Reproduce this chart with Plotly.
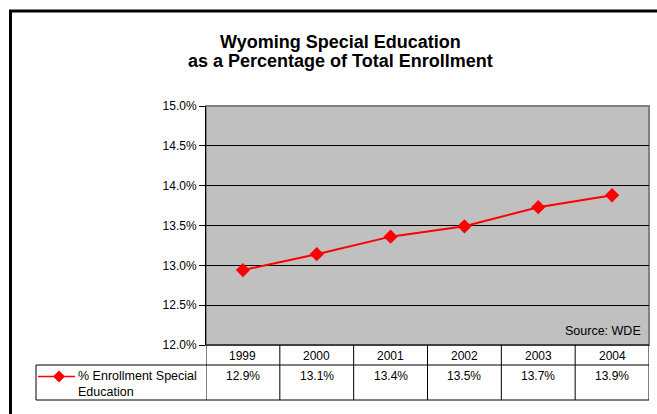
import plotly.graph_objects as go

# Data
years = ["1999", "2000", "2001", "2002", "2003", "2004"]
pct_special_ed = [12.94, 13.14, 13.36, 13.49, 13.73, 13.88]
series_name = "% Enrollment Special<br>Education"
title_lines = ["Wyoming Special Education", "as a Percentage of Total Enrollment"]
source_text = "Source: WDE"
y_ticks = [12.0, 12.5, 13.0, 13.5, 14.0, 14.5, 15.0]

W, H = 657, 414
L, R, T, B = 206, 8, 106, 69
PW = W - L - R
PH = H - T - B

FONT = "Liberation Sans, Arial, sans-serif"
RED = "#FF0000"


def px(x):
    """pixel x -> paper x"""
    return (x - L) / PW


def py(y):
    """pixel y -> paper y"""
    return (H - B - y) / PH


xs = list(range(len(years)))

fig = go.Figure()
fig.add_trace(go.Scatter(
    x=xs, y=pct_special_ed, mode="lines+markers",
    line=dict(color=RED, width=2),
    marker=dict(symbol="diamond", size=11, color=RED),
    showlegend=False, hoverinfo="skip",
))

shapes = []
annotations = []

# outer chart border (right/bottom fall outside the page)
shapes.append(dict(type="rect", xref="paper", yref="paper",
                   x0=px(10.5), x1=px(W + 40), y0=py(11), y1=py(H + 40),
                   line=dict(color="black", width=3)))

# plot area frame: gray top/right, black left axis
shapes.append(dict(type="rect", xref="paper", yref="paper",
                   x0=0, x1=1, y0=0, y1=1, line=dict(color="#808080", width=2),
                   layer="below"))

# data table lines
row_top, row_mid, row_bot = 345, 365, 400
legend_left = 36
shapes.append(dict(type="line", xref="paper", yref="paper",
                   x0=0, x1=1, y0=py(row_top), y1=py(row_top),
                   line=dict(color="black", width=1)))
for yy in (row_mid, row_bot):
    shapes.append(dict(type="line", xref="paper", yref="paper",
                       x0=px(legend_left), x1=1, y0=py(yy), y1=py(yy),
                       line=dict(color="black", width=1)))
shapes.append(dict(type="line", xref="paper", yref="paper",
                   x0=px(legend_left), x1=px(legend_left),
                   y0=py(row_mid), y1=py(row_bot),
                   line=dict(color="black", width=1)))
for i in range(len(years) + 1):
    shapes.append(dict(type="line", xref="x", yref="paper",
                       x0=i - 0.5, x1=i - 0.5, y0=py(row_top), y1=py(row_bot),
                       line=dict(color="black", width=1)))

# table text: years and values
for i, (yr, v) in enumerate(zip(years, pct_special_ed)):
    annotations.append(dict(x=i, y=py(355.5), xref="x", yref="paper",
                            text=yr, showarrow=False, yanchor="middle",
                            font=dict(family=FONT, size=12, color="black")))
    annotations.append(dict(x=i, y=py(375.5), xref="x", yref="paper",
                            text=f"{v:.1f}%", showarrow=False, yanchor="middle",
                            font=dict(family=FONT, size=12, color="black")))

# legend key in the table's first cell
key_y = 376.5
shapes.append(dict(type="line", xref="paper", yref="paper",
                   x0=px(38), x1=px(75), y0=py(key_y), y1=py(key_y),
                   line=dict(color=RED, width=1.5)))
cx, r = 59, 6
shapes.append(dict(type="path", xref="paper", yref="paper",
                   path=(f"M {px(cx - r)} {py(key_y)} L {px(cx)} {py(key_y - r)} "
                         f"L {px(cx + r)} {py(key_y)} L {px(cx)} {py(key_y + r)} Z"),
                   fillcolor=RED, line=dict(color=RED, width=0)))
annotations.append(dict(x=px(76), y=py(367), xref="paper", yref="paper",
                        text=series_name, showarrow=False, align="left",
                        xanchor="left", yanchor="top",
                        font=dict(family=FONT, size=12.5, color="black")))

# source note
annotations.append(dict(x=px(643), y=py(331), xref="paper", yref="paper",
                        text=source_text, showarrow=False,
                        xanchor="right", yanchor="middle",
                        font=dict(family=FONT, size=12.5, color="black")))

# two-line bold title
for line, yc in zip(title_lines, (42, 61)):
    annotations.append(dict(x=px(340), y=py(yc), xref="paper", yref="paper",
                            text=f"<b>{line}</b>", showarrow=False,
                            xanchor="center", yanchor="middle",
                            font=dict(family=FONT, size=18, color="black")))

fig.update_layout(
    width=W, height=H,
    margin=dict(l=L, r=R, t=T, b=B),
    paper_bgcolor="white", plot_bgcolor="#C0C0C0",
    xaxis=dict(range=[-0.5, 5.5], showgrid=False, zeroline=False,
               showticklabels=False, showline=False, fixedrange=True),
    yaxis=dict(range=[12.0, 15.0], tickvals=y_ticks,
               ticktext=[f"{t:.1f}%" for t in y_ticks],
               showgrid=True, gridcolor="black", gridwidth=1,
               zeroline=False, showline=True, linecolor="black", linewidth=1,
               ticks="outside", ticklen=6, tickcolor="black",
               tickfont=dict(family=FONT, size=12, color="black"),
               fixedrange=True),
    shapes=shapes, annotations=annotations,
    showlegend=False,
)

fig.write_html("out.html")
